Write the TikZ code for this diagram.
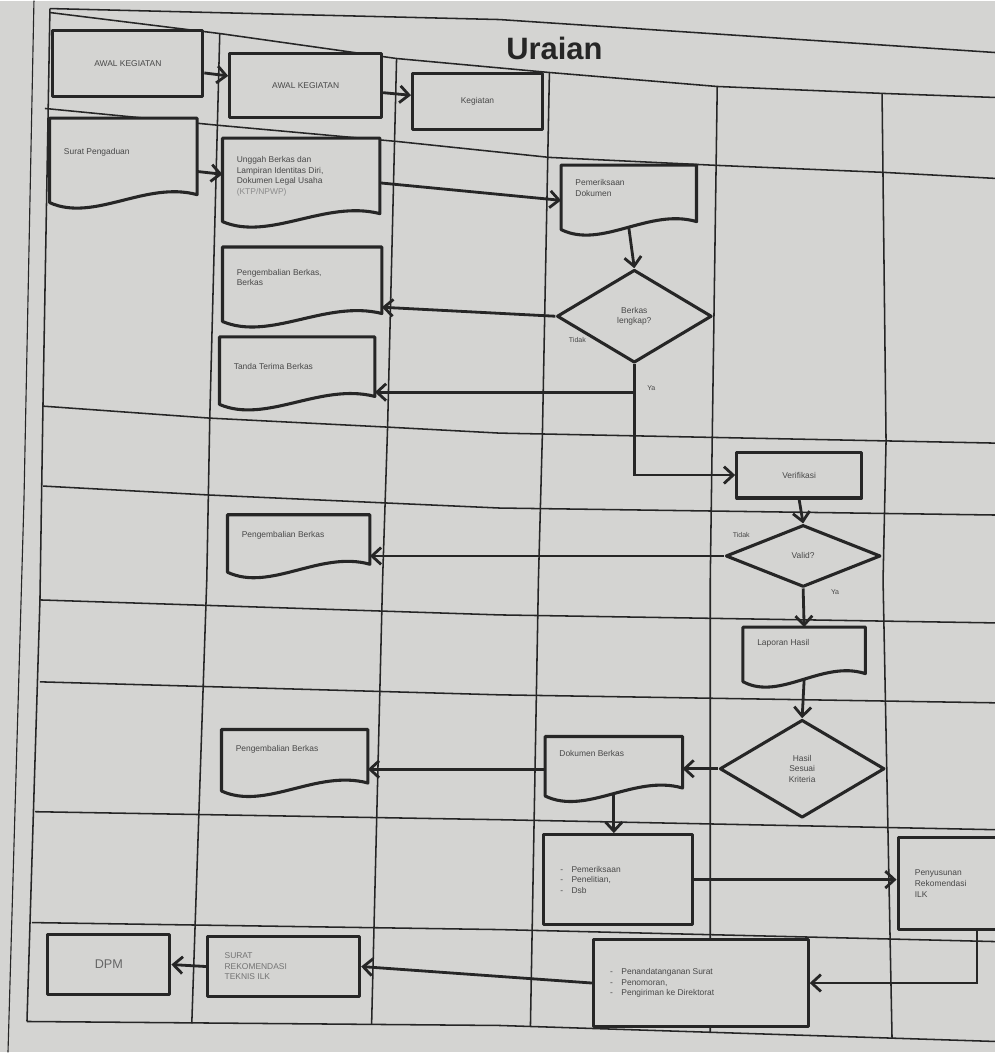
\documentclass[tikz,border=0pt]{standalone}
\usepackage{fontspec}
\setmainfont{Liberation Sans}
\usetikzlibrary{shapes.geometric,arrows.meta,calc}
\pgfdeclarelayer{back}
\pgfdeclarelayer{mid}
\pgfsetlayers{back,mid,main}
\definecolor{paper}{RGB}{212,212,210}
\definecolor{ink}{RGB}{38,38,38}
\definecolor{txt}{RGB}{72,72,72}
\newcommand\bxf{\fontsize{6}{7.5}\selectfont}
\newcommand\tbox[4]{\parbox[c][\dimexpr 0.025cm*#2\relax][t]{\dimexpr 0.025cm*#1\relax}{\vspace*{\dimexpr 0.025cm*#3\relax}\raggedright\leftskip=10pt #4}}
\newcommand\cbox[3]{\parbox[c][\dimexpr 0.025cm*#2\relax][c]{\dimexpr 0.025cm*#1\relax}{\raggedright\leftskip=12pt #3}}
\newcommand\docpath[1]{\begin{pgfonlayer}{mid}\draw[shp, fill=paper] ($(#1.south west)+(0,-6)$) -- (#1.north west) -- (#1.north east) -- ($(#1.south east)+(0,-14)$) .. controls ($(#1.south west)!0.65!(#1.south east)+(0,-28)$) and ($(#1.south west)!0.3!(#1.south east)+(0,14)$) .. ($(#1.south west)+(0,-6)$) -- cycle;\end{pgfonlayer}}
\begin{document}
\begin{tikzpicture}[x=0.025cm,y=-0.025cm,
  grid/.style={draw=ink, line width=1.1pt, line join=round},
  shp/.style={draw=ink, line width=2.2pt, line join=round},
  box/.style={shp, fill=paper, rectangle, inner sep=0pt, font=\bxf, text=txt, align=center},
  doc/.style={inner sep=0pt, font=\bxf, text=txt},
  dia/.style={shp, fill=paper, diamond, inner sep=0pt, font=\bxf, text=txt, align=center},
  arr/.style={draw=ink, line width=2pt, -{Straight Barb[length=6.5pt,width=12pt]}},
  lbl/.style={font=\fontsize{5}{6}\selectfont, text=txt, inner sep=1pt},
  sz/.style 2 args={minimum width=#1*0.025cm, minimum height=#2*0.025cm}]
\begin{pgfonlayer}{back}
\fill[paper] (0,0) rectangle (996,1053);
% grid (photographed in perspective)
\draw[grid] (50,8) -- (500,19) -- (996,52);
\draw[grid] (50,12) -- (220,33) -- (397,58) -- (550,72) -- (718,86) -- (885,93) -- (996,97);
\draw[grid] (45,108) -- (220,125) -- (397,141) -- (550,157) -- (718,165) -- (885,172) -- (996,178);
\draw[grid] (43,406) -- (210,418) -- (388,427) -- (500,433) -- (996,443);
\draw[grid] (43,486) -- (210,495) -- (388,503) -- (500,508) -- (996,515);
\draw[grid] (40,600) -- (500,615) -- (996,623);
\draw[grid] (40,682) -- (500,695) -- (996,703);
\draw[grid] (35,812) -- (500,820) -- (996,830);
\draw[grid] (32,923) -- (500,930) -- (996,942);
\draw[grid] (27,1022) -- (500,1026) -- (996,1042);
\draw[grid, line width=0.8pt] (34,0) -- (24,500) -- (8,1053);
\draw[grid] (50,8) -- (43,406) -- (40,600) -- (27,1022);
\draw[grid] (220,33) -- (210,418) -- (207,580) -- (192,1024);
\draw[grid] (397,58) -- (388,427) -- (383,580) -- (372,1025);
\draw[grid] (550,72) -- (543,433) -- (539,580) -- (531,1027);
\draw[grid] (718,86) -- (713,438) -- (711,580) -- (711,1033);
\draw[grid] (883,93) -- (887,441) -- (884,580) -- (893,1039);
\end{pgfonlayer}
\useasboundingbox (0,0) rectangle (996,1053);
\clip (0,0) rectangle (996,1053);
\node[text=ink, font=\fontsize{22}{24}\selectfont\bfseries] (title) at (555,48) {Uraian};
% row 0
\node[box, sz={150}{66}] (aw1) at (128,63) {AWAL KEGIATAN};
\node[box, sz={152}{64}] (aw2) at (306,85) {AWAL KEGIATAN};
\node[box, sz={130}{56}] (keg) at (478,101) {Kegiatan};
% row 1
\node[doc] (sp) at (123.5,163) {\tbox{147}{90}{30}{Surat Pengaduan}};
\node[doc] (ub) at (301.5,182.5) {\tbox{157}{89}{18}{Unggah Berkas dan\\ Lampiran Identitas Diri,\\ Dokumen Legal Usaha\\ \textcolor{black!45}{(KTP/NPWP)}}};
\node[doc] (pd) at (629.5,200) {\tbox{135}{70}{14}{Pemeriksaan\\ Dokumen}};
\node[dia, sz={155}{93}] (d1) at (635,316) {Berkas\\ lengkap?};
\node[doc] (pb1) at (302.5,287) {\tbox{159}{80}{22}{Pengembalian Berkas,\\ Berkas}};
\node[doc] (tt) at (297.5,373.5) {\tbox{155}{73}{26}{Tanda Terima Berkas}};
\docpath{sp}\docpath{ub}\docpath{pd}\docpath{pb1}\docpath{tt}
% row 2-3
\node[box, sz={125}{46}] (vf) at (800,475) {Verifikasi};
\node[dia, sz={155}{62}] (d2) at (804,556) {Valid?};
\node[doc] (pb2) at (299,546.5) {\tbox{142}{63}{16}{Pengembalian Berkas}};
\docpath{pb2}
% row 4-5
\node[doc] (lh) at (805,657.5) {\tbox{122}{60}{12}{Laporan Hasil}};
\node[dia, sz={165}{98}] (d3) at (803,769) {Hasil\\ Sesuai\\ Kriteria};
\node[doc] (db) at (614.5,769.5) {\tbox{137}{65}{14}{Dokumen Berkas}};
\node[doc] (pb3) at (295,763.5) {\tbox{146}{67}{16}{Pengembalian Berkas}};
\docpath{lh}\docpath{db}\docpath{pb3}
% row 6-7
\node[box] (bp1) at (618.5,880) {\cbox{149}{90}{-\quad Pemeriksaan\\ -\quad Penelitian,\\ -\quad Dsb}};
\node[box] (rk) at (955,884) {\cbox{112}{92}{Penyusunan\\ Rekomendasi\\ ILK}};
\node[box] (bp2) at (701.5,983.5) {\cbox{215}{87}{-\quad Penandatanganan Surat\\ -\quad Penomoran,\\ -\quad Pengiriman ke Direktorat}};
\node[box] (sr) at (284,967) {\cbox{152}{60}{\textcolor{black!55}{SURAT\\ REKOMENDASI\\ TEKNIS ILK}}};
\node[box, sz={122}{60}, font=\fontsize{9}{10}\selectfont, text=black!60] (dpm) at (109,965) {DPM};
% connectors
\draw[arr] (aw1) -- (aw2);
\draw[arr] (aw2) -- (keg);
\draw[arr] (sp) -- (ub);
\draw[arr] (ub.east) -- (pd.west);
\draw[arr] ($(pd.south)+(0,-8)$) -- (d1.north);
\draw[arr] (d1.west) -- ($(pb1.east)+(0,20)$);
\coordinate (j1) at ($(d1.south)+(0,28)$);
\draw[arr] (d1.south) -- (j1) -- (j1 -| tt.east);
\draw[arr] (j1) |- (vf.west);
\node[lbl] (t1) at (578,340) {Tidak};
\node[lbl] (y1) at (652,388) {Ya};
\draw[arr] (vf.south) -- (d2.north);
\draw[arr] (d2.west) -- (d2.west -| pb2.east);
\node[lbl] (t2) at (742,535) {Tidak};
\node[lbl] (y2) at (836,592) {Ya};
\draw[arr] (d2.south) -- (lh.north);
\draw[arr] ($(lh.south)+(0,-8)$) -- (d3.north);
\draw[arr] (d3.west) -- (d3.west -| db.east);
\draw[arr] (db.west) -- (db.west -| pb3.east);
\coordinate (c3) at ($(db.south)+(0,-8)$);
\draw[arr] (c3) -- (c3 |- bp1.north);
\draw[arr] (bp1.east) -- (bp1.east -| rk.west);
\coordinate (c4) at ($(rk.south)+(23,0)$);
\draw[arr] (c4) |- (bp2.east);
\draw[arr] (bp2.west) -- (sr.east);
\draw[arr] (sr.west) -- (dpm.east);
\end{tikzpicture}
\end{document}
